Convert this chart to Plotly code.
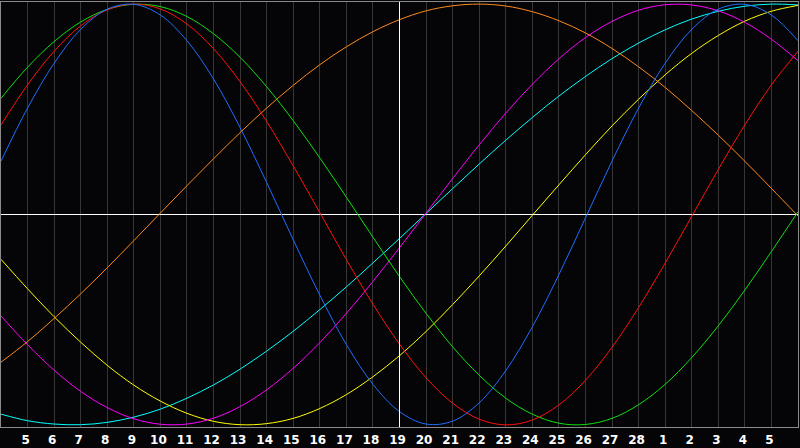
import plotly.graph_objects as go

# days shown: Feb 4 .. Mar 6 (day numbers counted from Feb 1)
days = list(range(4, 35))
tick_days = list(range(5, 34))
tick_labels = [str(d) for d in range(5, 29)] + [str(d) for d in range(1, 6)]
today = 19

physical = [0.254, 0.506, 0.719, 0.880, 0.976, 0.999, 0.948, 0.826, 0.644, 0.413, 0.152,
            -0.120, -0.383, -0.618, -0.807, -0.937, -0.996, -0.982, -0.895, -0.742, -0.534,
            -0.286, -0.016, 0.254, 0.506, 0.719, 0.880, 0.976, 0.999, 0.948, 0.826]
emotional = [0.426, 0.616, 0.776, 0.897, 0.973, 1.000, 0.977, 0.905, 0.788, 0.631, 0.442,
             0.231, 0.009, -0.214, -0.426, -0.616, -0.776, -0.897, -0.973, -1.000, -0.977,
             -0.905, -0.788, -0.631, -0.442, -0.231, -0.009, 0.214, 0.426, 0.616, 0.776]
intellectual = [0.552, 0.700, 0.822, 0.915, 0.975, 0.999, 0.988, 0.941, 0.859, 0.747, 0.607,
                0.446, 0.269, 0.082, -0.108, -0.295, -0.470, -0.629, -0.764, -0.873, -0.949,
                -0.992, -0.998, -0.969, -0.904, -0.807, -0.680, -0.529, -0.359, -0.176, 0.013]
awareness = [-0.702, -0.604, -0.494, -0.377, -0.253, -0.124, 0.007, 0.137, 0.265, 0.389, 0.506,
             0.614, 0.712, 0.797, 0.869, 0.926, 0.968, 0.992, 1.000, 0.991, 0.964,
             0.921, 0.863, 0.789, 0.702, 0.604, 0.494, 0.377, 0.253, 0.124, -0.007]
intuitive = [-0.482, -0.619, -0.740, -0.841, -0.918, -0.971, -0.997, -0.996, -0.968, -0.913, -0.833,
             -0.731, -0.609, -0.470, -0.318, -0.158, 0.007, 0.171, 0.331, 0.482, 0.619,
             0.740, 0.841, 0.918, 0.971, 0.997, 0.996, 0.968, 0.913, 0.833, 0.731]
spiritual = [-0.949, -0.980, -0.996, -0.999, -0.988, -0.963, -0.925, -0.873, -0.810, -0.735, -0.649,
             -0.555, -0.452, -0.344, -0.230, -0.114, 0.005, 0.123, 0.240, 0.353, 0.461,
             0.563, 0.656, 0.741, 0.815, 0.878, 0.929, 0.966, 0.990, 1.000, 0.996]
aesthetic = [-0.213, -0.353, -0.486, -0.607, -0.717, -0.811, -0.887, -0.945, -0.983, -0.999, -0.994,
             -0.969, -0.922, -0.856, -0.771, -0.671, -0.556, -0.428, -0.292, -0.150, -0.004,
             0.141, 0.284, 0.421, 0.548, 0.664, 0.766, 0.851, 0.919, 0.966, 0.994]

series = [
    ("spiritual", spiritual, "#00ffff"),
    ("aesthetic", aesthetic, "#ffff00"),
    ("intuitive", intuitive, "#ff00ff"),
    ("awareness", awareness, "#ff8a1c"),
    ("intellectual", intellectual, "#10e010"),
    ("emotional", emotional, "#ff1010"),
    ("physical", physical, "#1e6eff"),
]

fig = go.Figure()
for name, vals, col in series:
    fig.add_trace(go.Scatter(x=days, y=vals, name=name, mode="lines",
                             line=dict(color=col, width=1, shape="spline")))

# "today" marker
fig.add_vline(x=today, line_color="white", line_width=1, layer="above")

fig.update_layout(
    width=800, height=448,
    margin=dict(l=1, r=1, t=1, b=20),
    paper_bgcolor="#050508", plot_bgcolor="#050508",
    showlegend=False,
    xaxis=dict(range=[4, 34], tickvals=tick_days, ticktext=tick_labels,
               showgrid=True, gridcolor="#363636", gridwidth=1,
               showline=True, linecolor="#8a8a8a", linewidth=1, mirror=True,
               ticks="", zeroline=False, ticklabelstandoff=2, ticklabelshift=-2,
               tickfont=dict(family="DejaVu Sans", size=12, color="white", weight="bold")),
    yaxis=dict(range=[-1.01, 1.01], showgrid=False, showticklabels=False,
               zeroline=True, zerolinecolor="white", zerolinewidth=1,
               showline=True, linecolor="#8a8a8a", linewidth=1, mirror=True),
)

fig.write_html("out.html", config={"displayModeBar": False},
               post_script="document.body.style.margin='0';document.body.style.background='#050508';")
